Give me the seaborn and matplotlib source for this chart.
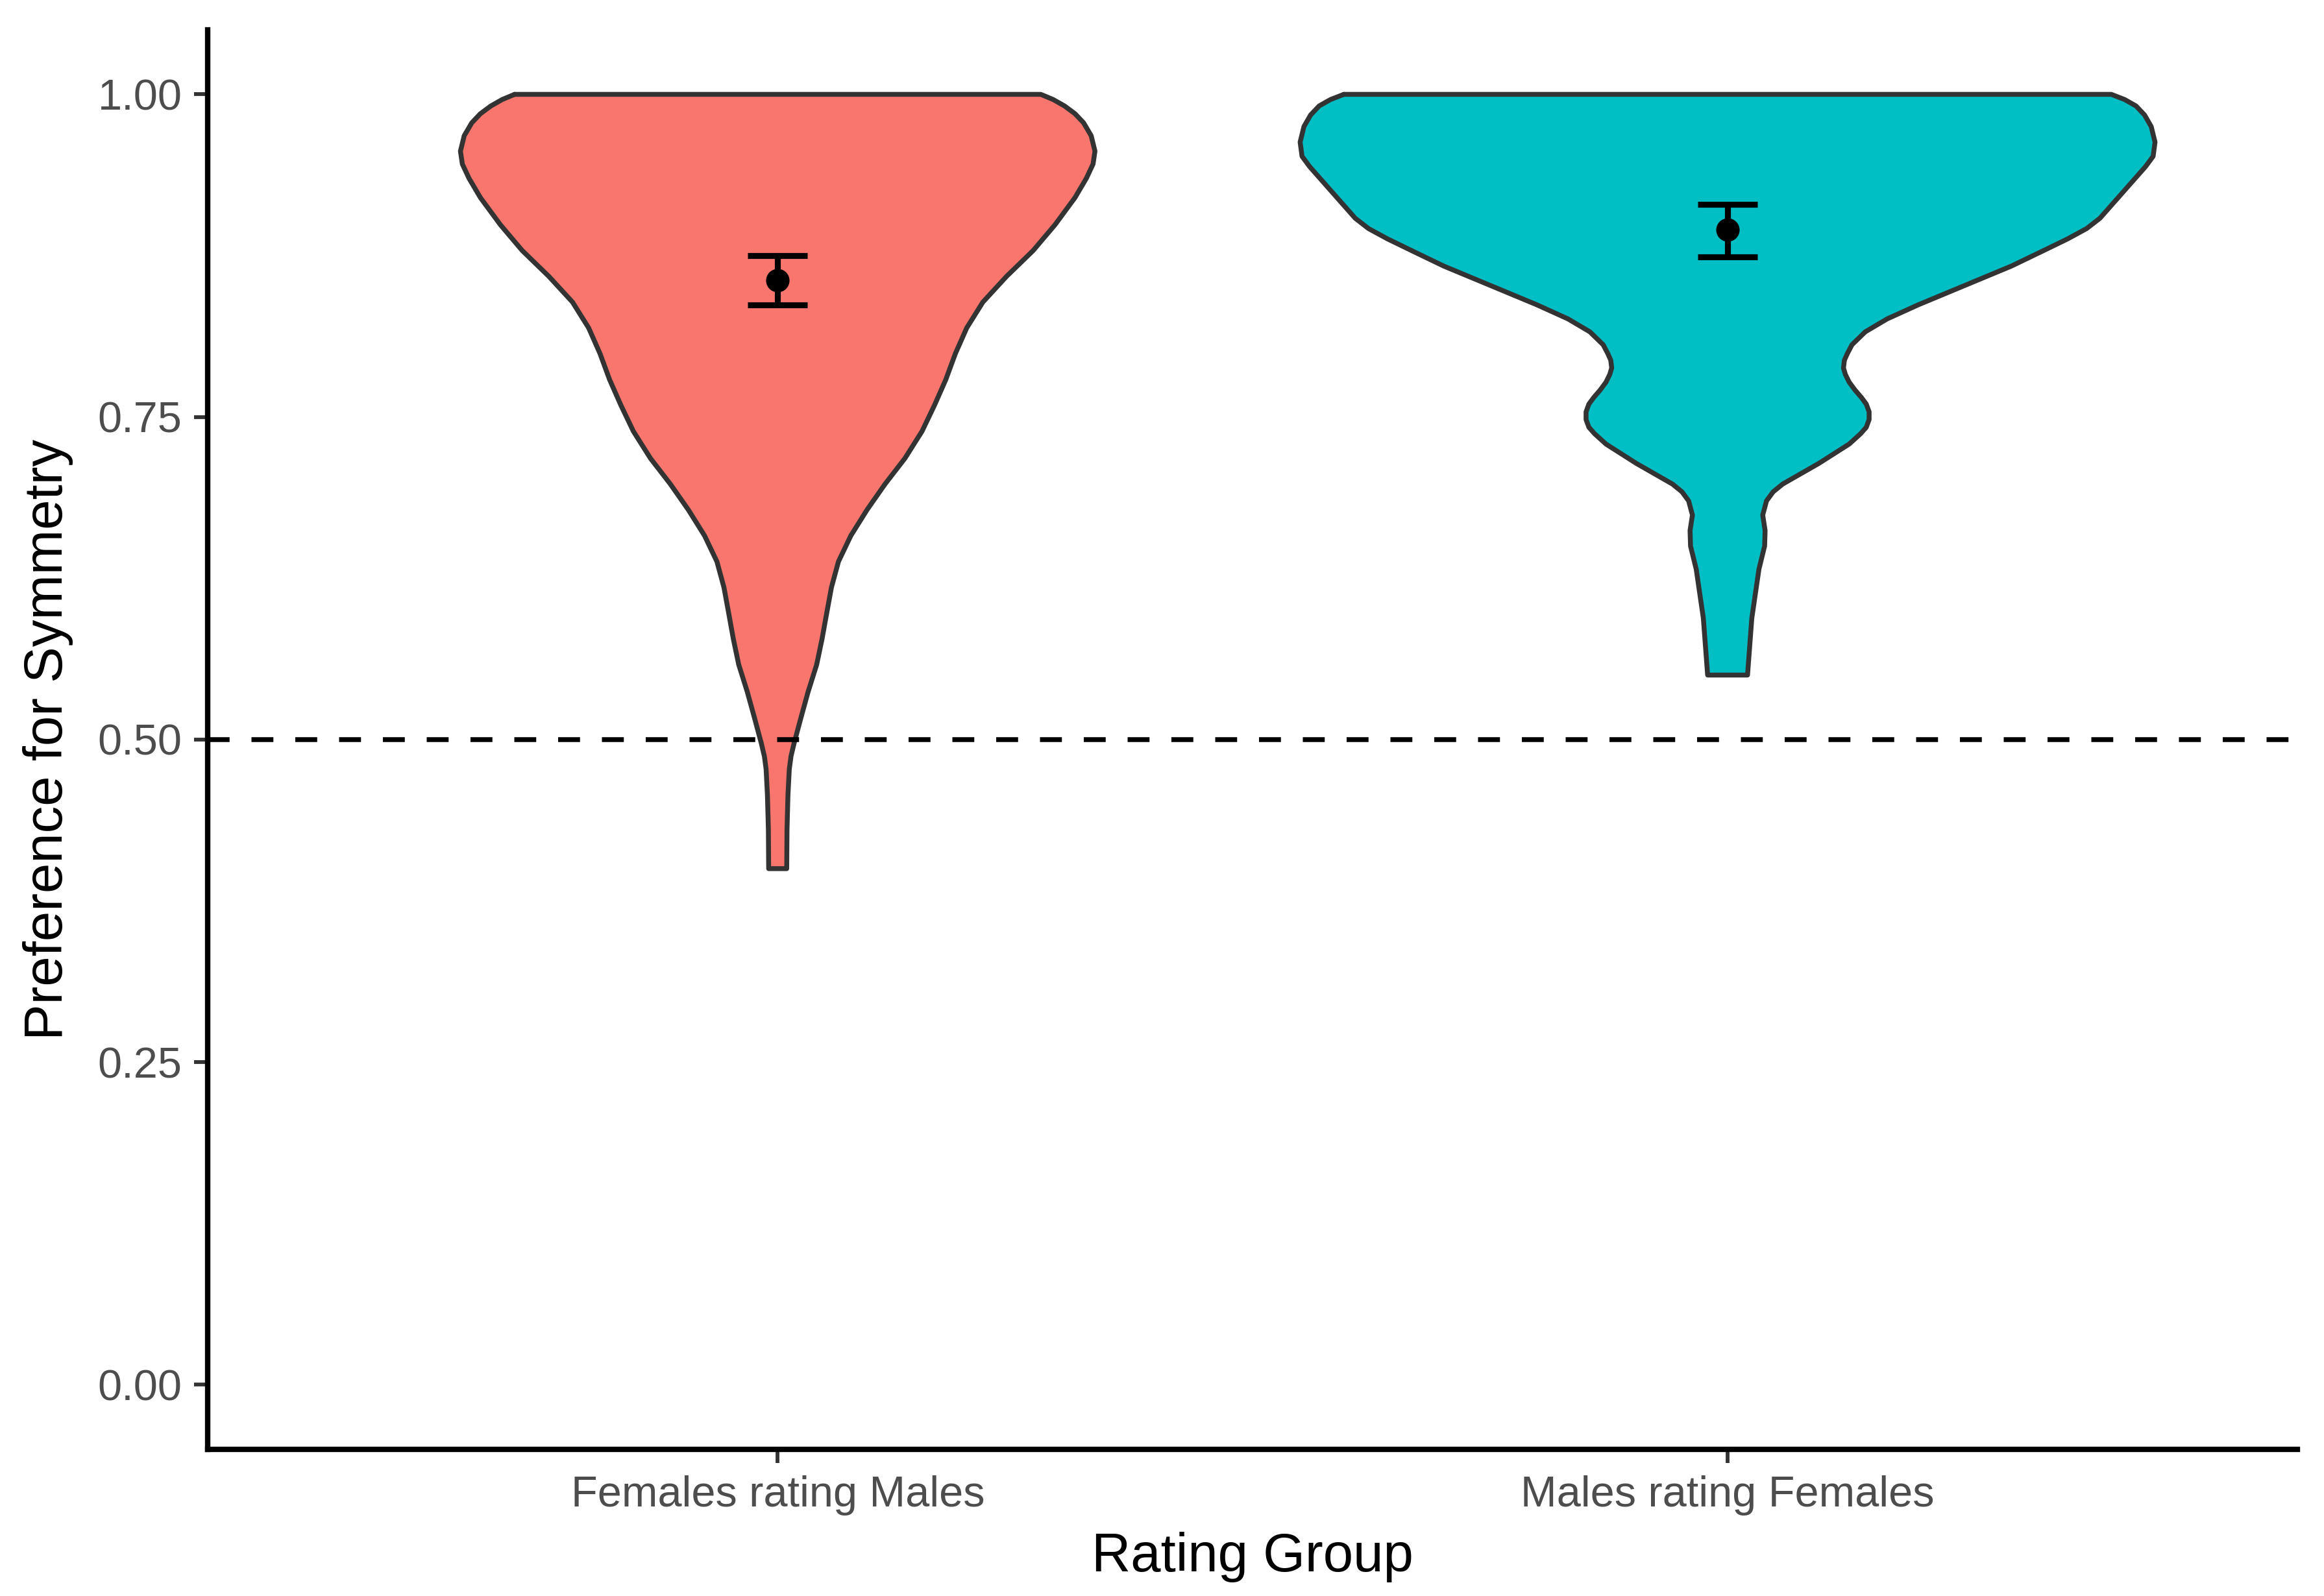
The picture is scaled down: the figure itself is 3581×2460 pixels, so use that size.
import matplotlib
matplotlib.use("Agg")
import matplotlib.pyplot as plt
import seaborn as sns
import pandas as pd

# categories and colours
groups = ["Females rating Males", "Males rating Females"]
fills = ["#F8766D", "#00BFC4"]

# violin outlines: value -> half width (category units)
fm_y = [1.000, 0.996, 0.991, 0.985, 0.978, 0.968, 0.956, 0.946, 0.935, 0.920,
        0.899, 0.879, 0.859, 0.839, 0.819, 0.809, 0.799, 0.789, 0.779, 0.759,
        0.739, 0.718, 0.698, 0.678, 0.658, 0.638, 0.618, 0.598, 0.578, 0.558,
        0.537, 0.517, 0.497, 0.487, 0.477, 0.457, 0.430, 0.400]
fm_hw = [0.277, 0.290, 0.302, 0.313, 0.322, 0.330, 0.334, 0.332, 0.325, 0.313,
         0.292, 0.269, 0.241, 0.216, 0.199, 0.193, 0.187, 0.182, 0.177, 0.165,
         0.152, 0.134, 0.113, 0.094, 0.077, 0.064, 0.0566, 0.0516, 0.0467, 0.041,
         0.032, 0.0245, 0.0172, 0.0140, 0.0122, 0.0108, 0.0098, 0.0095]

mf_y = [1.000, 0.996, 0.991, 0.984, 0.975, 0.963, 0.952, 0.944, 0.929, 0.914,
        0.904, 0.896, 0.888, 0.878, 0.867, 0.852, 0.837, 0.826, 0.816, 0.806,
        0.799, 0.794, 0.788, 0.783, 0.777, 0.771, 0.765, 0.760, 0.754, 0.748,
        0.742, 0.737, 0.729, 0.714, 0.698, 0.692, 0.685, 0.674, 0.662, 0.650,
        0.632, 0.594, 0.550]
mf_hw = [0.404, 0.418, 0.430, 0.439, 0.446, 0.450, 0.448, 0.440, 0.422, 0.404,
         0.392, 0.378, 0.358, 0.330, 0.299, 0.250, 0.201, 0.168, 0.145, 0.131,
         0.126, 0.123, 0.122, 0.124, 0.128, 0.134, 0.141, 0.146, 0.149, 0.149,
         0.146, 0.140, 0.128, 0.096, 0.058, 0.048, 0.041, 0.0370, 0.0395, 0.039,
         0.033, 0.0255, 0.021]

# group means with confidence intervals
means = [0.856, 0.895]
ci_low = [0.837, 0.874]
ci_high = [0.875, 0.915]

y_ticks = [0.00, 0.25, 0.50, 0.75, 1.00]
y_tick_labels = ["0.00", "0.25", "0.50", "0.75", "1.00"]

sns.set_theme(style="ticks")
plt.rcParams['font.family'] = ['Liberation Sans', 'DejaVu Sans']

fig = plt.figure(figsize=(3581 / 300, 2460 / 300), dpi=300)
ax = fig.add_axes([0.0894, 0.0919, 0.8992, 0.8894])

profiles = [(fm_y, fm_hw), (mf_y, mf_hw)]
for pos, ((ys, hws), col) in enumerate(zip(profiles, fills)):
    left = [pos - w for w in hws]
    right = [pos + w for w in hws]
    ax.fill_betweenx(ys, left, right, facecolor=col, edgecolor="none", zorder=2)
    outline_x = left + right[::-1] + [left[0]]
    outline_y = list(ys) + list(ys)[::-1] + [ys[0]]
    ax.plot(outline_x, outline_y, color="#333333", lw=1.8, zorder=3,
            solid_joinstyle="round")

ax.axhline(0.5, color="black", lw=1.8, ls=(0, (4.5, 4.5)), zorder=4)

summary = pd.DataFrame({"pos": range(len(groups)), "mean": means,
                        "low": ci_low, "high": ci_high})
ax.errorbar(summary["pos"], summary["mean"],
            yerr=[summary["mean"] - summary["low"], summary["high"] - summary["mean"]],
            fmt="none", ecolor="black", elinewidth=2.2, capsize=11, capthick=2.2,
            zorder=5)
sns.scatterplot(data=summary, x="pos", y="mean", color="black", s=75,
                edgecolor="black", linewidth=0, zorder=6, ax=ax)

ax.set_xlim(-0.6, 1.6)
ax.set_ylim(-0.05, 1.05)
ax.set_xticks(range(len(groups)))
ax.set_xticklabels(groups)
ax.set_yticks(y_ticks)
ax.set_yticklabels(y_tick_labels)

sns.despine(ax=ax)
for side in ["left", "bottom"]:
    ax.spines[side].set_linewidth(2.0)
    ax.spines[side].set_color("black")
ax.tick_params(axis="both", direction="out", length=5, width=1.4,
               color="#333333", labelsize=16, labelcolor="#4D4D4D", pad=4.5)

ax.set_xlabel("Rating Group", fontsize=20, color="black", labelpad=6)
ax.set_ylabel("Preference for Symmetry", fontsize=20, color="black", labelpad=9)

fig.savefig("out.png", dpi=300, facecolor="white")
